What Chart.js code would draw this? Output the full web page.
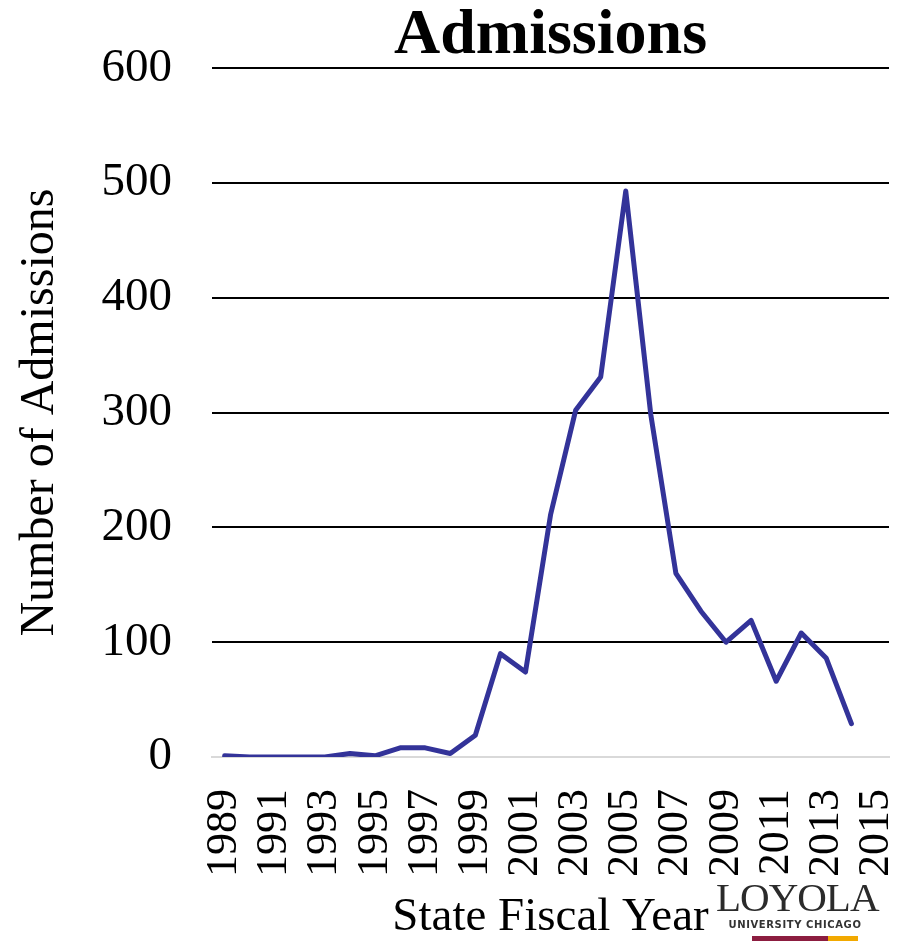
<!DOCTYPE html>
<html>
<head>
<meta charset="utf-8">
<script src="https://cdn.jsdelivr.net/npm/chart.js@4"></script>
<style>
  html, body { margin: 0; padding: 0; background: #fff; }
  #wrap { position: relative; width: 907px; height: 941px; }
  .logo { position: absolute; left: 716px; top: 878px; width: 158px; text-align: center; }
  .logo-name { font-family: "Liberation Serif", serif; font-size: 41px; line-height: 38px; color: #2b2b2b; letter-spacing: -1px; }
  .logo-sub { font-family: "DejaVu Sans", sans-serif; font-weight: bold; font-size: 10px; color: #333; letter-spacing: 0.6px; margin-top: 3px; }
  .logo-bar { position: absolute; left: 36px; top: 58px; width: 106px; height: 5px; background: linear-gradient(90deg, #8c1d40 0 72%, #f2a900 72% 100%); }
</style>
</head>
<body>
<div id="wrap">
  <canvas id="admChart" width="907" height="941"></canvas>
  <div class="logo">
    <div class="logo-name">LOYOLA</div>
    <div class="logo-sub">UNIVERSITY CHICAGO</div>
    <div class="logo-bar"></div>
  </div>
</div>
<script>
// State fiscal years shown on the axis (2015 has no reading)
const years = ['1989','1990','1991','1992','1993','1994','1995','1996','1997','1998','1999','2000','2001',
  '2002','2003','2004','2005','2006','2007','2008','2009','2010','2011','2012','2013','2014','2015'];
const admissions = [1, 0, 0, 0, 0, 3, 1, 8, 8, 3, 19, 90, 74,
  211, 302, 331, 493, 298, 160, 127, 100, 119, 66, 108, 86, 29, null];
const yTicks = [0, 100, 200, 300, 400, 500, 600];

const serif = '"Liberation Serif", "Times New Roman", serif';

const ctx = document.getElementById('admChart').getContext('2d');
new Chart(ctx, {
  type: 'line',
  data: {
    labels: years,
    datasets: [{
      label: 'Admissions',
      data: admissions,
      borderColor: '#333399',
      borderWidth: 5,
      borderJoinStyle: 'round',
      borderCapStyle: 'round',
      pointRadius: 0,
      tension: 0,
      fill: false,
      spanGaps: false,
    }],
  },
  options: {
    responsive: false,
    animation: false,
    layout: { padding: { left: 12, right: 18, top: 0, bottom: 0 } },
    plugins: {
      legend: { display: false },
      tooltip: { enabled: false },
      title: {
        display: true,
        text: 'Admissions',
        fullSize: false,
        color: '#000',
        font: { family: serif, size: 64, weight: 'bold', lineHeight: 1 },
        padding: { top: 0, bottom: 0 },
      },
    },
    scales: {
      x: {
        type: 'category',
        offset: true,
        grid: { display: false, drawTicks: false },
        border: { color: '#d9d9d9', width: 2 },
        // rotated labels would otherwise squeeze the plot sideways
        afterFit: s => { s.paddingLeft = 0; s.paddingRight = 0; },
        ticks: {
          autoSkip: false,
          minRotation: 90,
          maxRotation: 90,
          padding: 32,
          color: '#000',
          font: { family: serif, size: 44 },
          callback: (v, i) => (i % 2 === 0 ? years[i] : ''),
        },
        title: {
          display: true,
          text: 'State Fiscal Year',
          color: '#000',
          font: { family: serif, size: 47, lineHeight: 1 },
          padding: { top: -15, bottom: 0 },
        },
      },
      y: {
        min: 0,
        max: 600,
        afterBuildTicks: axis => { axis.ticks = yTicks.map(v => ({ value: v })); },
        grid: {
          drawTicks: false,
          lineWidth: 2,
          color: c => (c.tick && c.tick.value === 0 ? '#d9d9d9' : '#000'),
        },
        border: { display: false },
        ticks: {
          padding: 40,
          color: '#000',
          font: { family: serif, size: 47 },
        },
        title: {
          display: true,
          text: 'Number of Admissions',
          color: '#000',
          font: { family: serif, size: 48 },
          padding: { top: 0, bottom: -8 },
        },
      },
    },
  },
});
</script>
</body>
</html>
